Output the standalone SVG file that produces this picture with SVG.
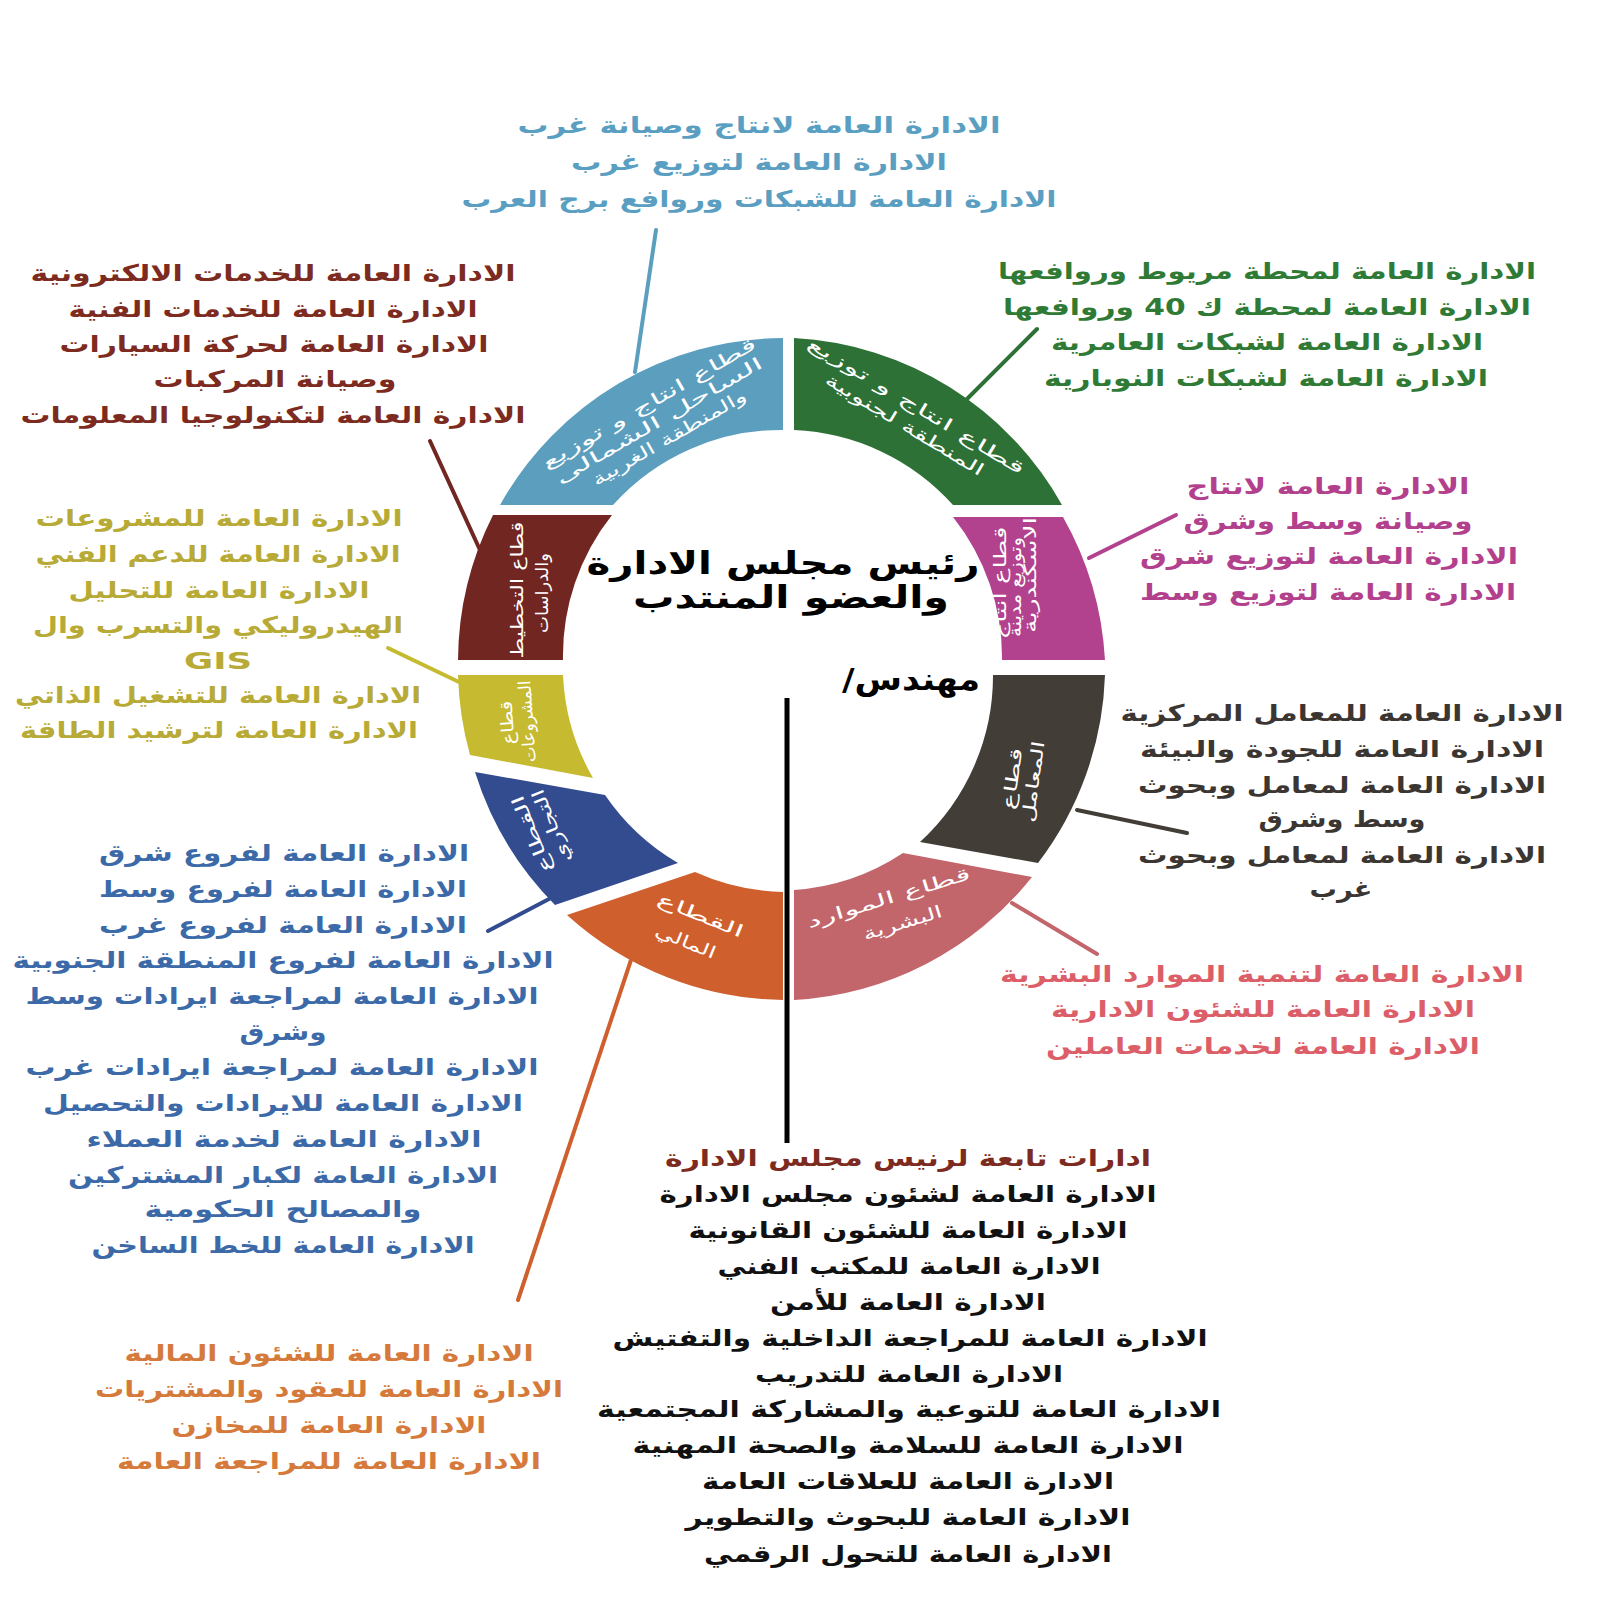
<svg xmlns="http://www.w3.org/2000/svg" width="1600" height="1600" viewBox="0 0 1600 1600">
<style>
  .t{font-family:"DejaVu Sans",sans-serif;font-weight:bold;font-size:23px;text-anchor:middle;direction:rtl}
  .seg{font-family:"DejaVu Sans",sans-serif;font-size:17px;fill:#ffffff;text-anchor:middle;direction:rtl}
  .title{font-family:"DejaVu Sans",sans-serif;font-weight:bold;font-size:31px;fill:#000;text-anchor:middle;direction:rtl}
  .c-lblue{fill:#5a9fc2}.c-dred{fill:#7d2b20}.c-green{fill:#2f7a35}.c-mag{fill:#b3408d}
  .c-olive{fill:#b7aa36}.c-gray{fill:#3b3632}.c-pink{fill:#db5e68}.c-navy{fill:#3c6aa8}
  .c-orange{fill:#d57a3b}.c-black{fill:#111}
  .ln{stroke-width:4;fill:none;stroke-linecap:round}
</style>
<rect width="1600" height="1600" fill="#ffffff"/>

<!-- ring segments -->
<g id="seg-west-coast">
  <path d="M500,505 A327,327 0 0 1 783,338 L783,430 A226,226 0 0 0 613,505 Z" fill="#5b9ebe"/>
  <g transform="translate(660,422) rotate(-30)">
    <text class="seg" x="0" y="-16" textLength="244" lengthAdjust="spacingAndGlyphs">قطاع انتاج و توزيع</text>
    <text class="seg" x="0" y="4" textLength="236" lengthAdjust="spacingAndGlyphs">الساحل الشمالى</text>
    <text class="seg" x="0" y="24" textLength="175" lengthAdjust="spacingAndGlyphs">والمنطقة الغربية</text>
  </g>
</g>
<g id="seg-south">
  <path d="M794,338 A327,327 0 0 1 1062,505 L953,505 A226,226 0 0 0 794,430 Z" fill="#2d7136"/>
  <g transform="translate(910,416) rotate(31)">
    <text class="seg" x="0" y="-6" textLength="250" lengthAdjust="spacingAndGlyphs">قطاع انتاج و توزيع</text>
    <text class="seg" x="0" y="16" textLength="182" lengthAdjust="spacingAndGlyphs">المنطقة لجنوبية</text>
  </g>
</g>
<g id="seg-planning">
  <path d="M493,515 L612,515 A226,226 0 0 0 563,660 L458,660 A327,327 0 0 1 493,515 Z" fill="#722621"/>
  <g transform="translate(530,590) rotate(-90)">
    <text class="seg" x="0" y="-7" textLength="137" lengthAdjust="spacingAndGlyphs">قطاع التخطيط</text>
    <text class="seg" x="-3" y="18" textLength="80" lengthAdjust="spacingAndGlyphs">والدراسات</text>
  </g>
</g>
<g id="seg-alex">
  <path d="M953,517 L1063,517 A327,327 0 0 1 1105,660 L1002,660 A226,226 0 0 0 953,517 Z" fill="#b2428e"/>
  <g transform="translate(1015,580) rotate(-90)">
    <text class="seg" x="-3" y="-9" font-size="15" textLength="113" lengthAdjust="spacingAndGlyphs">قطاع انتاج</text>
    <text class="seg" x="-7" y="6" font-size="15" textLength="100" lengthAdjust="spacingAndGlyphs">وتوزيع مدينة</text>
    <text class="seg" x="5" y="21" font-size="15" textLength="116" lengthAdjust="spacingAndGlyphs">الاسكندرية</text>
  </g>
</g>
<g id="seg-projects">
  <path d="M458,675 L563,675 A226,226 0 0 0 593,778 L470,755 A327,327 0 0 1 458,675 Z" fill="#c6ba31"/>
  <g transform="translate(518,722) rotate(-94)">
    <text class="seg" x="0" y="-5" textLength="44" lengthAdjust="spacingAndGlyphs">قطاع</text>
    <text class="seg" x="0" y="15" textLength="82" lengthAdjust="spacingAndGlyphs">المشروعات</text>
  </g>
</g>
<g id="seg-commercial">
  <path d="M475,772 L605,795 A226,226 0 0 0 678,863 L555,905 A327,327 0 0 1 475,772 Z" fill="#334b8f"/>
  <g transform="translate(542,830) rotate(-112)">
    <text class="seg" x="0" y="-5" textLength="82" lengthAdjust="spacingAndGlyphs">القطاع</text>
    <text class="seg" x="0" y="16" textLength="78" lengthAdjust="spacingAndGlyphs">التجاري</text>
  </g>
</g>
<g id="seg-finance">
  <path d="M567,915 L695,872 A226,226 0 0 0 783,892 L783,1000 A327,327 0 0 1 567,915 Z" fill="#d05f2e"/>
  <g transform="translate(695,929) rotate(22)">
    <text class="seg" x="0" y="-9" textLength="92" lengthAdjust="spacingAndGlyphs">القطاع</text>
    <text class="seg" x="-4" y="21" textLength="64" lengthAdjust="spacingAndGlyphs">المالي</text>
  </g>
</g>
<g id="seg-hr">
  <path d="M794,890 A226,226 0 0 0 903,853 L1032,877 A327,327 0 0 1 794,1000 Z" fill="#c2666c"/>
  <g transform="translate(893,912) rotate(-17)">
    <text class="seg" x="0" y="-9" textLength="170" lengthAdjust="spacingAndGlyphs">قطاع الموارد</text>
    <text class="seg" x="6" y="19" textLength="82" lengthAdjust="spacingAndGlyphs">البشرية</text>
  </g>
</g>
<g id="seg-labs">
  <path d="M993,675 L1105,675 A327,327 0 0 1 1038,863 L920,842 A226,226 0 0 0 993,675 Z" fill="#433d38"/>
  <g transform="translate(1022,780) rotate(-82)">
    <text class="seg" x="0" y="-4" textLength="62" lengthAdjust="spacingAndGlyphs">قطاع</text>
    <text class="seg" x="0" y="17" textLength="82" lengthAdjust="spacingAndGlyphs">المعامل</text>
  </g>
</g>

<!-- center -->
<g id="chairman">
  <text class="title" x="783" y="574" textLength="393" lengthAdjust="spacingAndGlyphs">رئيس مجلس الادارة</text>
  <text class="title" x="791" y="608" textLength="316" lengthAdjust="spacingAndGlyphs">والعضو المنتدب</text>
  <text class="title" x="911" y="690" font-size="30" textLength="138" lengthAdjust="spacingAndGlyphs">مهندس/</text>
</g>

<!-- connectors -->
<g id="connectors">
  <line class="ln" x1="656" y1="230" x2="635" y2="372" stroke="#5b9ebe"/>
  <line class="ln" x1="430" y1="441" x2="480" y2="550" stroke="#722621"/>
  <line class="ln" x1="1037" y1="329" x2="967" y2="399" stroke="#2d7136"/>
  <line class="ln" x1="1176" y1="515" x2="1089" y2="558" stroke="#b2428e"/>
  <line class="ln" x1="388" y1="648" x2="459" y2="682" stroke="#c6ba31"/>
  <line class="ln" x1="488" y1="931" x2="549" y2="899" stroke="#334b8f"/>
  <line class="ln" x1="631" y1="960" x2="518" y2="1300" stroke="#d05f2e"/>
  <line class="ln" x1="1077" y1="810" x2="1187" y2="833" stroke="#433d38"/>
  <line class="ln" x1="1012" y1="903" x2="1097" y2="954" stroke="#c2666c"/>
  <line x1="787" y1="698" x2="787" y2="1143" stroke="#000" stroke-width="5"/>
</g>

<!-- text blocks -->
<g id="west-depts" class="c-lblue">
  <text class="t" x="759" y="133" textLength="483" lengthAdjust="spacingAndGlyphs">الادارة العامة لانتاج وصيانة غرب</text>
  <text class="t" x="759" y="170" textLength="376" lengthAdjust="spacingAndGlyphs">الادارة العامة لتوزيع غرب</text>
  <text class="t" x="759" y="207" textLength="595" lengthAdjust="spacingAndGlyphs">الادارة العامة للشبكات وروافع برج العرب</text>
</g>
<g id="planning-depts" class="c-dred">
  <text class="t" x="273" y="281" textLength="485" lengthAdjust="spacingAndGlyphs">الادارة العامة للخدمات الالكترونية</text>
  <text class="t" x="273" y="317" textLength="409" lengthAdjust="spacingAndGlyphs">الادارة العامة للخدمات الفنية</text>
  <text class="t" x="274" y="352" textLength="429" lengthAdjust="spacingAndGlyphs">الادارة العامة لحركة السيارات</text>
  <text class="t" x="275" y="387" textLength="243" lengthAdjust="spacingAndGlyphs">وصيانة المركبات</text>
  <text class="t" x="273" y="423" textLength="505" lengthAdjust="spacingAndGlyphs">الادارة العامة لتكنولوجيا المعلومات</text>
</g>
<g id="south-depts" class="c-green">
  <text class="t" x="1267" y="279" textLength="538" lengthAdjust="spacingAndGlyphs">الادارة العامة لمحطة مريوط وروافعها</text>
  <text class="t" x="1267" y="315" textLength="528" lengthAdjust="spacingAndGlyphs">الادارة العامة لمحطة ك 40 وروافعها</text>
  <text class="t" x="1267" y="350" textLength="432" lengthAdjust="spacingAndGlyphs">الادارة العامة لشبكات العامرية</text>
  <text class="t" x="1266" y="386" textLength="444" lengthAdjust="spacingAndGlyphs">الادارة العامة لشبكات النوبارية</text>
</g>
<g id="alex-depts" class="c-mag">
  <text class="t" x="1328" y="494" textLength="283" lengthAdjust="spacingAndGlyphs">الادارة العامة لانتاج</text>
  <text class="t" x="1328" y="529" textLength="289" lengthAdjust="spacingAndGlyphs">وصيانة وسط وشرق</text>
  <text class="t" x="1329" y="564" textLength="378" lengthAdjust="spacingAndGlyphs">الادارة العامة لتوزيع شرق</text>
  <text class="t" x="1328" y="600" textLength="376" lengthAdjust="spacingAndGlyphs">الادارة العامة لتوزيع وسط</text>
</g>
<g id="projects-depts" class="c-olive">
  <text class="t" x="219" y="526" textLength="367" lengthAdjust="spacingAndGlyphs">الادارة العامة للمشروعات</text>
  <text class="t" x="218" y="562" textLength="365" lengthAdjust="spacingAndGlyphs">الادارة العامة للدعم الفني</text>
  <text class="t" x="219" y="598" textLength="301" lengthAdjust="spacingAndGlyphs">الادارة العامة للتحليل</text>
  <text class="t" x="218" y="633" textLength="370" lengthAdjust="spacingAndGlyphs">الهيدروليكي والتسرب وال</text>
  <text class="t" x="218" y="669" style="direction:ltr" textLength="68" lengthAdjust="spacingAndGlyphs">GIS</text>
  <text class="t" x="218" y="703" textLength="406" lengthAdjust="spacingAndGlyphs">الادارة العامة للتشغيل الذاتي</text>
  <text class="t" x="219" y="738" textLength="398" lengthAdjust="spacingAndGlyphs">الادارة العامة لترشيد الطاقة</text>
</g>
<g id="labs-depts" class="c-gray">
  <text class="t" x="1342" y="721" textLength="443" lengthAdjust="spacingAndGlyphs">الادارة العامة للمعامل المركزية</text>
  <text class="t" x="1342" y="757" textLength="404" lengthAdjust="spacingAndGlyphs">الادارة العامة للجودة والبيئة</text>
  <text class="t" x="1342" y="793" textLength="408" lengthAdjust="spacingAndGlyphs">الادارة العامة لمعامل وبحوث</text>
  <text class="t" x="1342" y="827" textLength="167" lengthAdjust="spacingAndGlyphs">وسط وشرق</text>
  <text class="t" x="1342" y="863" textLength="408" lengthAdjust="spacingAndGlyphs">الادارة العامة لمعامل وبحوث</text>
  <text class="t" x="1341" y="897" textLength="63" lengthAdjust="spacingAndGlyphs">غرب</text>
</g>
<g id="hr-depts" class="c-pink">
  <text class="t" x="1262" y="982" textLength="524" lengthAdjust="spacingAndGlyphs">الادارة العامة لتنمية الموارد البشرية</text>
  <text class="t" x="1263" y="1017" textLength="424" lengthAdjust="spacingAndGlyphs">الادارة العامة للشئون الادارية</text>
  <text class="t" x="1263" y="1054" textLength="434" lengthAdjust="spacingAndGlyphs">الادارة العامة لخدمات العاملين</text>
</g>
<g id="commercial-depts" class="c-navy">
  <text class="t" x="284" y="861" textLength="370" lengthAdjust="spacingAndGlyphs">الادارة العامة لفروع شرق</text>
  <text class="t" x="283" y="897" textLength="368" lengthAdjust="spacingAndGlyphs">الادارة العامة لفروع وسط</text>
  <text class="t" x="283" y="933" textLength="368" lengthAdjust="spacingAndGlyphs">الادارة العامة لفروع غرب</text>
  <text class="t" x="283" y="968" textLength="541" lengthAdjust="spacingAndGlyphs">الادارة العامة لفروع المنطقة الجنوبية</text>
  <text class="t" x="282" y="1004" textLength="513" lengthAdjust="spacingAndGlyphs">الادارة العامة لمراجعة ايرادات وسط</text>
  <text class="t" x="283" y="1040" textLength="87" lengthAdjust="spacingAndGlyphs">وشرق</text>
  <text class="t" x="282" y="1075" textLength="513" lengthAdjust="spacingAndGlyphs">الادارة العامة لمراجعة ايرادات غرب</text>
  <text class="t" x="283" y="1111" textLength="480" lengthAdjust="spacingAndGlyphs">الادارة العامة للايرادات والتحصيل</text>
  <text class="t" x="284" y="1147" textLength="395" lengthAdjust="spacingAndGlyphs">الادارة العامة لخدمة العملاء</text>
  <text class="t" x="283" y="1183" textLength="430" lengthAdjust="spacingAndGlyphs">الادارة العامة لكبار المشتركين</text>
  <text class="t" x="283" y="1217" textLength="277" lengthAdjust="spacingAndGlyphs">والمصالح الحكومية</text>
  <text class="t" x="283" y="1253" textLength="383" lengthAdjust="spacingAndGlyphs">الادارة العامة للخط الساخن</text>
</g>
<g id="finance-depts" class="c-orange">
  <text class="t" x="329" y="1361" textLength="409" lengthAdjust="spacingAndGlyphs">الادارة العامة للشئون المالية</text>
  <text class="t" x="329" y="1397" textLength="468" lengthAdjust="spacingAndGlyphs">الادارة العامة للعقود والمشتريات</text>
  <text class="t" x="329" y="1433" textLength="315" lengthAdjust="spacingAndGlyphs">الادارة العامة للمخازن</text>
  <text class="t" x="329" y="1469" textLength="424" lengthAdjust="spacingAndGlyphs">الادارة العامة للمراجعة العامة</text>
</g>
<g id="chairman-depts" class="c-black">
  <text class="t c-dred" x="908" y="1166" textLength="486" lengthAdjust="spacingAndGlyphs">ادارات تابعة لرنيس مجلس الادارة</text>
  <text class="t" x="908" y="1202" textLength="497" lengthAdjust="spacingAndGlyphs">الادارة العامة لشئون مجلس الادارة</text>
  <text class="t" x="908" y="1238" textLength="439" lengthAdjust="spacingAndGlyphs">الادارة العامة للشئون القانونية</text>
  <text class="t" x="909" y="1274" textLength="383" lengthAdjust="spacingAndGlyphs">الادارة العامة للمكتب الفني</text>
  <text class="t" x="908" y="1310" textLength="276" lengthAdjust="spacingAndGlyphs">الادارة العامة للأمن</text>
  <text class="t" x="910" y="1346" textLength="595" lengthAdjust="spacingAndGlyphs">الادارة العامة للمراجعة الداخلية والتفتيش</text>
  <text class="t" x="909" y="1382" textLength="308" lengthAdjust="spacingAndGlyphs">الادارة العامة للتدريب</text>
  <text class="t" x="909" y="1417" textLength="624" lengthAdjust="spacingAndGlyphs">الادارة العامة للتوعية والمشاركة المجتمعية</text>
  <text class="t" x="908" y="1453" textLength="551" lengthAdjust="spacingAndGlyphs">الادارة العامة للسلامة والصحة المهنية</text>
  <text class="t" x="908" y="1489" textLength="412" lengthAdjust="spacingAndGlyphs">الادارة العامة للعلاقات العامة</text>
  <text class="t" x="908" y="1525" textLength="445" lengthAdjust="spacingAndGlyphs">الادارة العامة للبحوث والتطوير</text>
  <text class="t" x="908" y="1562" textLength="408" lengthAdjust="spacingAndGlyphs">الادارة العامة للتحول الرقمي</text>
</g>
</svg>
